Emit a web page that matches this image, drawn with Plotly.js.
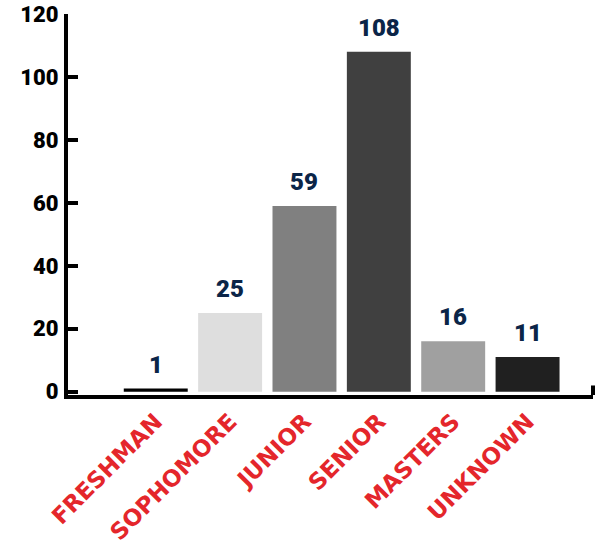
<!DOCTYPE html>
<html><head><meta charset="utf-8">
<script src="https://cdn.plot.ly/plotly-3.0.1.min.js"></script>
<style>html,body{margin:0;padding:0;background:#fff}</style>
</head><body>
<div id="chart" style="width:598px;height:555px"></div>
<script>
const categories = ["FRESHMAN","SOPHOMORE","JUNIOR","SENIOR","MASTERS","UNKNOWN"];
const counts = [1, 25, 59, 108, 16, 11];
const barColors = ["#000000","#dedede","#808080","#404040","#a0a0a0","#202020"];
const yTicks = [0,20,40,60,80,100,120];

const trace = {
  type: "bar",
  x: categories,
  y: counts,
  marker: {color: barColors, line: {width: 0}},
  hoverinfo: "none"
};

const labelFont = {family: "Roboto, 'DejaVu Sans'", size: 24, color: "#0b2548", weight: 900};
const annotations = categories.map((c, i) => ({
  x: c, y: counts[i], xref: "x", yref: "y",
  text: String(counts[i]),
  showarrow: false, yanchor: "bottom", yshift: 8,
  font: labelFont
}));

const layout = {
  width: 598, height: 555,
  margin: {l: 68, r: 5, t: 14, b: 160},
  paper_bgcolor: "#fff", plot_bgcolor: "#fff",
  showlegend: false,
  bargap: 0.14,
  xaxis: {
    type: "category",
    range: [-1.18, 5.88],
    showgrid: false, zeroline: false,
    showline: true, linecolor: "#000", linewidth: 4,
    ticks: "", tickangle: -45,
    tickfont: {family: "'DejaVu Sans'", size: 23, color: "#e4262b", weight: 900}
  },
  yaxis: {
    range: [-1.05, 120],
    tickvals: yTicks,
    showgrid: false, zeroline: false,
    showline: true, linecolor: "#000", linewidth: 4,
    ticks: "inside", ticklen: 10, tickwidth: 4, tickcolor: "#000",
    ticklabelstandoff: 1,
    tickfont: {family: "Roboto, 'DejaVu Sans'", size: 22, color: "#000", weight: 900}
  },
  annotations: annotations,
  shapes: [{
    type: "line", xref: "paper", yref: "paper",
    x0: 1, x1: 1, y0: 0, y1: 0.025,
    line: {color: "#000", width: 4}
  }]
};

Plotly.newPlot("chart", [trace], layout, {displayModeBar: false, staticPlot: true});
</script>
</body></html>
